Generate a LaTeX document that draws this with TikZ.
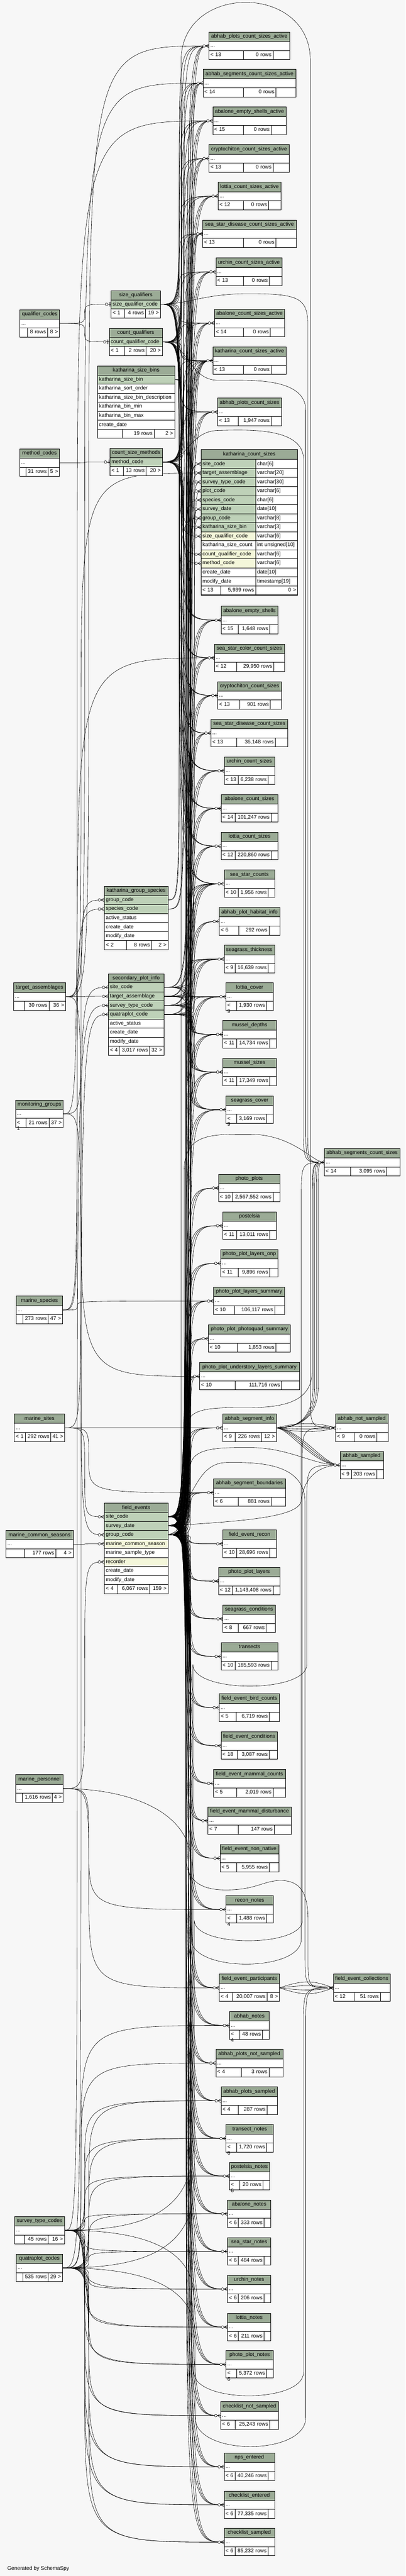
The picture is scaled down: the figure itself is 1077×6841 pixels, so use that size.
\documentclass[tikz,border=0pt]{standalone}
\usepackage{fontspec}
\setmainfont{Liberation Sans}
\usepackage{tikz}
\usetikzlibrary{calc}
\definecolor{bodybg}{HTML}{F7F7F7}
\definecolor{headbg}{HTML}{9BAB96}
\definecolor{pkbg}{HTML}{BED1B8}
\definecolor{idxbg}{HTML}{F4F7DA}
\pgfdeclarelayer{bg}
\pgfdeclarelayer{edges}
\pgfsetlayers{bg,edges,main}
\hyphenpenalty=10000
\lefthyphenmin=64
\newcommand\dbtext[1]{\expandafter\detokenize\expandafter{#1}}
\newcommand\midtables{abhab_plots_count_sizes_active, abhab_segments_count_sizes_active, abalone_empty_shells_active, cryptochiton_count_sizes_active, lottia_count_sizes_active, sea_star_disease_count_sizes_active, urchin_count_sizes_active, abalone_count_sizes_active, katharina_count_sizes_active, abhab_plots_count_sizes, abalone_empty_shells, sea_star_color_count_sizes, cryptochiton_count_sizes, sea_star_disease_count_sizes, urchin_count_sizes, abalone_count_sizes, lottia_count_sizes, sea_star_counts, abhab_plot_habitat_info, seagrass_thickness, lottia_cover, mussel_depths, mussel_sizes, seagrass_cover, photo_plots, postelsia, photo_plot_layers_onp, photo_plot_layers_summary, photo_plot_photoquad_summary, photo_plot_understory_layers_summary, abhab_segment_info, abhab_segment_boundaries, field_event_recon, photo_plot_layers, seagrass_conditions, transects, field_event_bird_counts, field_event_conditions, field_event_mammal_counts, field_event_mammal_disturbance, field_event_non_native, recon_notes, field_event_participants, abhab_notes, abhab_plots_not_sampled, abhab_plots_sampled, transect_notes, postelsia_notes, abalone_notes, sea_star_notes, urchin_notes, lottia_notes, photo_plot_notes, checklist_not_sampled, nps_entered, checklist_entered, checklist_sampled}
\newcommand\counttables{abhab_plots_count_sizes_active, abhab_segments_count_sizes_active, abalone_empty_shells_active, cryptochiton_count_sizes_active, lottia_count_sizes_active, sea_star_disease_count_sizes_active, urchin_count_sizes_active, abalone_count_sizes_active, katharina_count_sizes_active, abhab_plots_count_sizes, abalone_empty_shells, sea_star_color_count_sizes, cryptochiton_count_sizes, sea_star_disease_count_sizes, urchin_count_sizes, abalone_count_sizes, lottia_count_sizes, sea_star_counts}
\newcommand\notetables{abhab_plots_sampled, transect_notes, postelsia_notes, abalone_notes, sea_star_notes, urchin_notes, lottia_notes, photo_plot_notes, checklist_not_sampled, nps_entered, checklist_entered, checklist_sampled}
\tikzset{
  cell/.style={draw=black, line width=0.8pt, fill=white, inner xsep=4pt, inner ysep=0pt, outer sep=0pt, minimum height=24pt, text height=10pt, text depth=3pt, anchor=north west},
  headcell/.style={cell, fill=headbg, align=center},
  rel/.style={line width=0.8pt},
  erlink/.style={to path={.. controls (\tikztostart -| #1) and (\tikztostart -| #1) .. ($(\tikztostart -| #1)!.5!(\tikztotarget -| #1)$) .. controls (\tikztotarget -| #1) and (\tikztotarget -| #1) .. (\tikztotarget)}}
}
\begin{document}
\begin{tikzpicture}[x=1pt, y=-1pt, every node/.style={font=\fontsize{14pt}{16pt}\selectfont}]
\useasboundingbox (0,0) rectangle (1077,6841);
\begin{pgfonlayer}{bg}
\fill[bodybg] (0,0) rectangle (1077,6841);
\end{pgfonlayer}
\coordinate (busl1) at (205,0);
\coordinate (busl2) at (215,0);
\coordinate (busl3) at (225,0);
\coordinate (busl4) at (236,0);
\coordinate (busq1) at (476,0);
\coordinate (busq2) at (482,0);
\coordinate (busq3) at (488,0);
\coordinate (busf1) at (494,0);
\coordinate (busf2) at (500,0);
\coordinate (busf3) at (506,0);
\coordinate (bussa) at (498,0);
\coordinate (bussb) at (504,0);
\coordinate (bussc) at (510,0);
\coordinate (bussd) at (516,0);

\foreach \tn/\xa/\xb/\ty/\fl/\fm/\fr/\spa/\spb in {
 abhab_plots_count_sizes_active/555/769/85/{< 13}/{0 rows}/{}/646/725,
 abhab_segments_count_sizes_active/539/786/184/{< 14}/{0 rows}/{}/646/733,
 abalone_empty_shells_active/565/760/284/{< 15}/{0 rows}/{}/646/720,
 cryptochiton_count_sizes_active/555/768/384/{< 13}/{0 rows}/{}/646/725,
 lottia_count_sizes_active/579/746/484/{< 12}/{0 rows}/{}/646/713,
 sea_star_disease_count_sizes_active/538/787/584/{< 13}/{0 rows}/{}/646/733,
 urchin_count_sizes_active/573/749/685/{< 13}/{0 rows}/{}/646/715,
 abalone_count_sizes_active/569/756/821/{< 14}/{0 rows}/{}/646/718,
 katharina_count_sizes_active/565/760/921/{< 13}/{0 rows}/{}/646/720,
 abhab_plots_count_sizes/578/747/1057/{< 13}/{1,947 rows}/{}/633/720,
 abalone_empty_shells/587/738/1610/{< 15}/{1,648 rows}/{}/633/716,
 sea_star_color_count_sizes/569/755/1710/{< 12}/{29,950 rows}/{}/628/727,
 cryptochiton_count_sizes/578/747/1810/{< 13}/{901 rows}/{}/637/718,
 sea_star_disease_count_sizes/560/764/1910/{< 13}/{36,148 rows}/{}/628/731,
 urchin_count_sizes/595/729/2010/{< 13}/{6,238 rows}/{}/633/712,
 abalone_count_sizes/587/738/2110/{< 14}/{101,247 rows}/{}/624/720,
 lottia_count_sizes/587/738/2210/{< 12}/{220,860 rows}/{}/624/720,
 sea_star_counts/595/729/2310/{< 10}/{1,956 rows}/{}/633/712,
 abhab_plot_habitat_info/582/743/2410/{< 6}/{292 rows}/{}/634/714,
 seagrass_thickness/595/729/2510/{< 9}/{16,639 rows}/{}/624/712,
 lottia_cover/600/726/2610/{< 9}/{1,930 rows}/{}/628/708,
 mussel_depths/591/734/2710/{< 11}/{14,734 rows}/{}/628/716,
 mussel_sizes/591/734/2810/{< 11}/{17,349 rows}/{}/628/716,
 seagrass_cover/600/726/2910/{< 9}/{3,169 rows}/{}/628/708,
 photo_plots/580/743/3118/{< 10}/{2,567,552 rows}/{}/618/725,
 postelsia/591/734/3218/{< 11}/{13,011 rows}/{}/628/716,
 photo_plot_layers_onp/586/738/3318/{< 11}/{9,896 rows}/{}/633/716,
 photo_plot_layers_summary/567/756/3418/{< 10}/{106,117 rows}/{}/623/729,
 photo_plot_photoquad_summary/553/771/3518/{< 10}/{1,853 rows}/{}/630/733,
 photo_plot_understory_layers_summary/530/795/3618/{< 10}/{111,716 rows}/{}/624/748,
 abhab_segment_info/591/734/3755/{< 9}/{226 rows}/{12 >}/624/694,
 abhab_segment_boundaries/567/758/3927/{< 6}/{881 rows}/{}/633/720,
 field_event_recon/591/734/4063/{< 10}/{28,696 rows}/{}/628/716,
 photo_plot_layers/580/743/4162/{< 12}/{1,143,408 rows}/{}/618/725,
 seagrass_conditions/592/731/4262/{< 8}/{667 rows}/{}/633/707,
 transects/587/738/4362/{< 10}/{185,593 rows}/{}/624/720,
 field_event_bird_counts/582/742/4498/{< 5}/{6,719 rows}/{}/627/715,
 field_event_conditions/587/736/4599/{< 18}/{3,087 rows}/{}/630/715,
 field_event_mammal_counts/567/758/4699/{< 5}/{2,019 rows}/{}/628/725,
 field_event_mammal_disturbance/552/773/4798/{< 7}/{147 rows}/{}/633/728,
 field_event_non_native/584/740/4898/{< 5}/{5,955 rows}/{}/628/715,
 recon_notes/600/726/5034/{< 4}/{1,488 rows}/{}/628/708,
 field_event_participants/582/742/5242/{< 4}/{20,007 rows}/{8 >}/618/709,
 abhab_notes/609/715/5342/{< 4}/{48 rows}/{}/637/697,
 abhab_plots_not_sampled/573/751/5442/{< 4}/{3 rows}/{}/641/714,
 abhab_plots_sampled/587/736/5542/{< 4}/{287 rows}/{}/633/709,
 transect_notes/600/726/5642/{< 6}/{1,720 rows}/{}/628/708,
 postelsia_notes/609/716/5742/{< 6}/{20 rows}/{}/637/698,
 abalone_notes/604/719/5842/{< 6}/{333 rows}/{}/633/701,
 sea_star_notes/604/719/5942/{< 6}/{484 rows}/{}/633/701,
 urchin_notes/604/719/6042/{< 6}/{206 rows}/{}/633/701,
 lottia_notes/604/719/6143/{< 6}/{211 rows}/{}/633/701,
 photo_plot_notes/600/726/6242/{< 6}/{5,372 rows}/{}/628/708,
 checklist_not_sampled/586/739/6378/{< 6}/{25,243 rows}/{}/624/716,
 nps_entered/595/729/6514/{< 6}/{40,246 rows}/{}/624/712,
 checklist_entered/595/729/6615/{< 6}/{77,335 rows}/{}/624/712,
 checklist_sampled/595/729/6714/{< 6}/{85,232 rows}/{}/624/712,
 abhab_segments_count_sizes/861/1062/3050/{< 14}/{3,095 rows}/{}/931/1027,
 abhab_not_sampled/891/1030/3755/{< 9}/{0 rows}/{}/940/1001,
 abhab_sampled/903/1018/3854/{< 9}/{203 rows}/{}/933/1000,
 field_event_collections/885/1036/5242/{< 12}/{51 rows}/{}/941/1010,
 qualifier_codes/53/158/822/{}/{8 rows}/{8 >}/73/126,
 method_codes/52/158/1192/{}/{31 rows}/{5 >}/69/128,
 target_assemblages/36/174/2610/{}/{30 rows}/{36 >}/65/130,
 monitoring_groups/41/168/2921/{< 1}/{21 rows}/{37 >}/69/130,
 marine_species/43/166/3442/{}/{273 rows}/{47 >}/60/128,
 marine_sites/38/172/3755/{< 1}/{292 rows}/{41 >}/67/135,
 marine_common_seasons/16/194/4064/{}/{177 rows}/{4 >}/65/148,
 marine_personnel/42/168/4713/{}/{1,616 rows}/{4 >}/59/139,
 survey_type_codes/39/171/5886/{}/{45 rows}/{16 >}/65/128,
 quatraplot_codes/43/166/5986/{}/{535 rows}/{29 >}/60/128}{
 \pgfmathsetmacro\tw{\xb-\xa-8}
 \pgfmathsetmacro\lw{\spa-\xa-8}
 \pgfmathsetmacro\mw{\spb-\spa-8}
 \pgfmathsetmacro\rw{\xb-\spb-8}
 \node[headcell, minimum height=25pt, text width=\tw pt] (\tn) at (\xa,\ty) {\dbtext{\tn}};
 \node[cell, text width=\tw pt, align=left] (\tn-dots) at (\tn.south west) {...};
 \node[cell, text width=\lw pt, align=left] (\tn-fl) at (\tn-dots.south west) {\fl};
 \node[cell, text width=\mw pt, align=right] (\tn-fm) at (\tn-fl.north east) {\fm};
 \node[cell, text width=\rw pt, align=right] (\tn-fr) at (\tn-fm.north east) {\fr};
}

\foreach \tn/\xa/\xb/\ty/\cols/\lastc/\fl/\fm/\fr/\spa/\spb in {
 size_qualifiers/295/426/772/{size_qualifier_code/pkbg}/size_qualifier_code/{< 1}/{4 rows}/{19 >}/330/386,
 count_qualifiers/290/431/872/{count_qualifier_code/pkbg}/count_qualifier_code/{< 1}/{2 rows}/{20 >}/330/388,
 katharina_size_bins/259/464/972/{katharina_size_bin/pkbg,katharina_sort_order/white,katharina_size_bin_description/white,katharina_bin_min/white,katharina_bin_max/white,create_date/white}/create_date/{}/{19 rows}/{2 >}/325/409,
 count_size_methods/292/431/1191/{method_code/pkbg}/method_code/{< 1}/{13 rows}/{20 >}/328/388,
 katharina_group_species/277/446/2354/{group_code/pkbg,species_code/pkbg,active_status/white,create_date/white,modify_date/white}/modify_date/{< 2}/{8 rows}/{2 >}/336/402,
 secondary_plot_info/288/435/2586/{site_code/pkbg,target_assemblage/pkbg,survey_type_code/pkbg,quatraplot_code/pkbg,active_status/white,create_date/white,modify_date/white}/modify_date/{< 4}/{3,017 rows}/{32 >}/317/397,
 field_events/277/446/3992/{site_code/pkbg,survey_date/pkbg,group_code/pkbg,marine_common_season/idxbg,marine_sample_type/white,recorder/idxbg,create_date/white,modify_date/white}/modify_date/{< 4}/{6,067 rows}/{159 >}/313/397}{
 \pgfmathsetmacro\tw{\xb-\xa-8}
 \pgfmathsetmacro\lw{\spa-\xa-8}
 \pgfmathsetmacro\mw{\spb-\spa-8}
 \pgfmathsetmacro\rw{\xb-\spb-8}
 \node[headcell, text width=\tw pt] (\tn) at (\xa,\ty) {\dbtext{\tn}};
 \foreach \cn/\ck [count=\rowi] in \cols {
  \node[cell, fill=\ck, text width=\tw pt, align=left] (\tn-\cn) at (\xa,\ty+24*\rowi) {\dbtext{\cn}};
 }
 \node[cell, text width=\lw pt, align=left] (\tn-fl) at (\tn-\lastc.south west) {\fl};
 \node[cell, text width=\mw pt, align=right] (\tn-fm) at (\tn-fl.north east) {\fm};
 \node[cell, text width=\rw pt, align=right] (\tn-fr) at (\tn-fm.north east) {\fr};
}

\node[headcell, minimum height=26pt, text width=248pt] (katharina_count_sizes) at (534,1194) {\detokenize{katharina_count_sizes}};
\foreach \cn/\ct/\ck [count=\rowi] in {site_code/{char[6]}/pkbg, target_assemblage/{varchar[20]}/pkbg, survey_type_code/{varchar[30]}/pkbg, plot_code/{varchar[6]}/pkbg, species_code/{char[6]}/pkbg, survey_date/{date[10]}/pkbg, group_code/{varchar[8]}/pkbg, katharina_size_bin/{varchar[3]}/pkbg, size_qualifier_code/{varchar[6]}/idxbg, katharina_size_count/{int unsigned[10]}/white, count_qualifier_code/{varchar[6]}/idxbg, method_code/{varchar[6]}/idxbg, create_date/{date[10]}/white, modify_date/{timestamp[19]}/white}{
 \node[cell, fill=\ck, text width=137pt, align=left] (katharina_count_sizes-\cn) at (534,1196+24*\rowi) {\dbtext{\cn}};
 \node[cell, text width=103pt, align=left] (katharina_count_sizes-\cn-type) at (katharina_count_sizes-\cn.north east) {\ct};
}
\node[cell, text width=44pt, align=left] (katharina_count_sizes-fl) at (katharina_count_sizes-modify_date.south west) {< 13};
\node[cell, text width=85pt, align=right] (katharina_count_sizes-fm) at (katharina_count_sizes-fl.north east) {5,939 rows};
\node[cell, text width=103pt, align=right] (katharina_count_sizes-fr) at (katharina_count_sizes-fm.north east) {0 >};
\draw[line width=2pt] (katharina_count_sizes.north west) rectangle (katharina_count_sizes-fr.south east);

\begin{pgfonlayer}{edges}
\foreach \kid in \midtables {
 \foreach \row/\bus in {site_code/busf1, survey_date/busf2, group_code/busf3}
  \draw[rel] (field_events-\row.east) to[erlink=\bus] (\kid-dots.west);
}
\foreach \row/\bus in {site_code/busf1, survey_date/busf2, group_code/busf3}
 \draw[rel] (field_events-\row.east) to[erlink=\bus] (katharina_count_sizes-\row.west);
\foreach \kid in \counttables {
 \draw[rel] (size_qualifiers-size_qualifier_code.east) to[erlink=busq1] (\kid-dots.west);
 \draw[rel] (count_qualifiers-count_qualifier_code.east) to[erlink=busq2] (\kid-dots.west);
 \draw[rel] (count_size_methods-method_code.east) to[erlink=busq3] (\kid-dots.west);
}
\draw[rel] (size_qualifiers-size_qualifier_code.east) to[erlink=busq1] (katharina_count_sizes-size_qualifier_code.west);
\draw[rel] (count_qualifiers-count_qualifier_code.east) to[erlink=busq2] (katharina_count_sizes-count_qualifier_code.west);
\draw[rel] (count_size_methods-method_code.east) to[erlink=busq3] (katharina_count_sizes-method_code.west);
\draw[rel] (katharina_size_bins-katharina_size_bin.east) to[erlink=busq2] (katharina_count_sizes-katharina_size_bin.west);
\draw[rel] (katharina_size_bins-katharina_size_bin.east) to[erlink=busq2] (katharina_count_sizes_active-dots.west);
\draw[rel] (katharina_group_species-group_code.east) to[erlink=busq1] (katharina_count_sizes-group_code.west);
\draw[rel] (katharina_group_species-species_code.east) to[erlink=busq3] (katharina_count_sizes-species_code.west);
\draw[rel] (katharina_group_species-group_code.east) to[erlink=busq1] (katharina_count_sizes_active-dots.west);
\draw[rel] (katharina_group_species-species_code.east) to[erlink=busq3] (katharina_count_sizes_active-dots.west);
\foreach \kid in {katharina_count_sizes_active, sea_star_counts, seagrass_thickness, lottia_cover, mussel_depths, mussel_sizes, seagrass_cover}{
 \foreach \row/\bus in {site_code/bussa, target_assemblage/bussb, survey_type_code/bussc, quatraplot_code/bussd}
  \draw[rel] (secondary_plot_info-\row.east) to[erlink=\bus] (\kid-dots.west);
}
\foreach \row/\krow/\bus in {site_code/site_code/bussa, target_assemblage/target_assemblage/bussb, survey_type_code/survey_type_code/bussc, quatraplot_code/plot_code/bussd}
 \draw[rel] (secondary_plot_info-\row.east) to[erlink=\bus] (katharina_count_sizes-\krow.west);
\foreach \src/\kid/\bus in {
 qualifier_codes-dots.east/size_qualifiers-size_qualifier_code.west/busl3,
 qualifier_codes-dots.east/count_qualifiers-count_qualifier_code.west/busl3,
 method_codes-dots.east/count_size_methods-method_code.west/busl3,
 target_assemblages-dots.east/abhab_plots_count_sizes_active-dots.west/busl4,
 target_assemblages-dots.east/abhab_segments_count_sizes_active-dots.west/busl3,
 target_assemblages-dots.east/katharina_count_sizes-target_assemblage.west/busl2,
 target_assemblages-dots.east/secondary_plot_info-target_assemblage.west/busl3,
 target_assemblages-dots.east/photo_plot_understory_layers_summary-dots.west/busl2,
 monitoring_groups-dots.east/abalone_empty_shells_active-dots.west/busl1,
 monitoring_groups-dots.east/katharina_group_species-group_code.west/busl2,
 monitoring_groups-dots.east/field_events-group_code.west/busl2,
 marine_species-dots.east/katharina_group_species-species_code.west/busl1,
 marine_species-dots.east/sea_star_color_count_sizes-dots.west/busl1,
 marine_species-dots.east/photo_plot_layers_summary-dots.west/busl1,
 marine_sites-dots.east/secondary_plot_info-site_code.west/busl2,
 marine_sites-dots.east/field_events-site_code.west/busl3,
 marine_sites-dots.east/abhab_segment_info-dots.west/busl4,
 marine_sites-dots.east/abhab_segment_boundaries-dots.west/busl4,
 marine_common_seasons-dots.east/field_events-marine_common_season.west/busl3,
 marine_personnel-dots.east/field_events-recorder.west/busl3,
 marine_personnel-dots.east/recon_notes-dots.west/busl4,
 marine_personnel-dots.east/field_event_participants-dots.west/busl4,
 survey_type_codes-dots.east/secondary_plot_info-survey_type_code.west/busl1,
 quatraplot_codes-dots.east/secondary_plot_info-quatraplot_code.west/busl2,
 quatraplot_codes-dots.east/abhab_notes-dots.west/busl2,
 quatraplot_codes-dots.east/abhab_plots_not_sampled-dots.west/busl2}
 \draw[rel] (\src) to[erlink=\bus] (\kid);
\foreach \kid in \notetables {
 \draw[rel] (survey_type_codes-dots.east) to[erlink=busl3] (\kid-dots.west);
 \draw[rel] (quatraplot_codes-dots.east) to[erlink=busl4] (\kid-dots.west);
}
\foreach \dd in {-14,-5,5,14}{
 \draw[rel] (abhab_segment_info-dots.east) .. controls (790,{3791+(\dd)}) and (845,{3791+(\dd)}) .. (abhab_not_sampled-dots.west);
 \draw[rel] (abhab_segment_info-dots.east) .. controls ({785+(\dd)},3795) and ({845+(\dd)},3891) .. (abhab_sampled-dots.west);
 \draw[rel] (abhab_segment_info-dots.east) .. controls (790,3791) and ({838+(\dd)/2},3770) .. ({838+(\dd)/2},3680) -- ({838+(\dd)/2},3190) .. controls ({838+(\dd)/2},3087) and ({838+(\dd)/2},3087) .. (abhab_segments_count_sizes-dots.west);
 \draw[rel] (field_event_participants-dots.east) .. controls (805,{5279+1.5*(\dd)}) and (830,{5279+1.5*(\dd)}) .. (field_event_collections-dots.west);
}
\draw[rel] (field_events-group_code.east) .. controls (481,4064) and (481,4064) .. (481,3900) -- (481,160) .. controls (481,-45) and (824,-45) .. (824,160) -- (824,3700) .. controls (824,3791) and (824,3791) .. (abhab_not_sampled-dots.west);
\draw[rel] (size_qualifiers-size_qualifier_code.east) .. controls (500,808) and (540,780) .. (660,780) .. controls (790,780) and (817,790) .. (817,860) -- (817,2990) .. controls (817,3087) and (817,3087) .. (abhab_segments_count_sizes-dots.west);
\draw[rel] (count_qualifiers-count_qualifier_code.east) .. controls (500,908) and (500,1010) .. (580,1010) .. controls (660,1010) and (812,1000) .. (812,1090) -- (812,2990) .. controls (812,3087) and (812,3087) .. (abhab_segments_count_sizes-dots.west);
\draw[rel] (count_size_methods-method_code.east) .. controls (500,1227) and (500,1145) .. (580,1143) .. controls (660,1141) and (806,1135) .. (806,1220) -- (806,2990) .. controls (806,3087) and (806,3087) .. (abhab_segments_count_sizes-dots.west);
\draw[rel] (field_events-group_code.east) .. controls (489,4064) and (489,4064) .. (489,3950) -- (489,3110) .. controls (489,3010) and (560,3012) .. (660,3012) .. controls (780,3012) and (830,3087) .. (abhab_segments_count_sizes-dots.west);
\draw[rel] (field_events-survey_date.east) .. controls (497,4040) and (497,4040) .. (497,3950) -- (497,3790) .. controls (497,3738) and (560,3738) .. (660,3738) .. controls (760,3738) and (829,3720) .. (829,3640) -- (829,3190) .. controls (829,3087) and (829,3087) .. (abhab_segments_count_sizes-dots.west);
\draw[rel] (field_events-site_code.east) .. controls (505,4016) and (505,4016) .. (505,3950) -- (505,3900) .. controls (505,3846) and (570,3844) .. (660,3844) .. controls (770,3844) and (830,3891) .. (abhab_sampled-dots.west);
\draw[rel] (field_events-site_code.east) .. controls (512,4016) and (512,3886) .. (600,3884) .. controls (700,3882) and (810,3890) .. (810,3990) -- (810,5190) .. controls (810,5279) and (810,5279) .. (field_event_collections-dots.west);
\draw[rel] (field_events-survey_date.east) .. controls (640,4040) and (795,4030) .. (800,3985) .. controls (806,3930) and (840,3891) .. (abhab_sampled-dots.west);
\draw[rel] (field_events-survey_date.east) .. controls (494,4040) and (494,4040) .. (494,4150) -- (494,4930) .. controls (494,5000) and (540,5019) .. (600,5019) .. controls (680,5019) and (700,4994) .. (745,4994) .. controls (800,4994) and (818,5030) .. (818,5100) -- (818,5200) .. controls (818,5279) and (818,5279) .. (field_event_collections-dots.west);
\draw[rel] (survey_type_codes-dots.east) .. controls (330,5922) and (512,5900) .. (512,5700) -- (512,4420) .. controls (512,4497) and (815,4497) .. (815,4420) -- (815,3990) .. controls (815,3891) and (815,3891) .. (abhab_sampled-dots.west);
\draw[rel] (quatraplot_codes-dots.east) .. controls (330,6022) and (516,6000) .. (516,5800) -- (516,5100) .. controls (516,5172) and (803,5172) .. (803,5100) -- (803,3880) .. controls (803,3791) and (803,3791) .. (abhab_not_sampled-dots.west);
\draw[rel] (marine_personnel-dots.east) .. controls (320,4749) and (508,4800) .. (508,4950) -- (508,5150) .. controls (508,5238) and (800,5238) .. (800,5150) -- (800,3190) .. controls (800,3087) and (800,3087) .. (abhab_segments_count_sizes-dots.west);
\draw[rel] (survey_type_codes-dots.east) .. controls (330,5922) and (515,5950) .. (515,6100) -- (515,6300) .. controls (515,6383) and (806,6383) .. (806,6300) -- (806,5380) .. controls (806,5279) and (806,5279) .. (field_event_collections-dots.west);
\draw[rel] (quatraplot_codes-dots.east) .. controls (330,6022) and (518,6050) .. (518,6200) -- (518,6420) .. controls (518,6523) and (812,6523) .. (812,6420) -- (812,5380) .. controls (812,5279) and (812,5279) .. (field_event_collections-dots.west);
\end{pgfonlayer}

\foreach \kid in \midtables {
 \draw[rel] ([xshift=-9pt]\kid-dots.west) -- ([yshift=5pt]\kid-dots.west) ([xshift=-9pt]\kid-dots.west) -- ([yshift=-5pt]\kid-dots.west) ([xshift=-9pt]\kid-dots.west) -- (\kid-dots.west);
 \draw[rel, fill=white] ([xshift=-13pt]\kid-dots.west) circle (3.5pt);
}
\foreach \mk in {abhab_segments_count_sizes-dots.west, abhab_not_sampled-dots.west, abhab_sampled-dots.west, field_event_collections-dots.west, katharina_count_sizes-site_code.west, katharina_count_sizes-target_assemblage.west, katharina_count_sizes-survey_type_code.west, katharina_count_sizes-plot_code.west, katharina_count_sizes-species_code.west, katharina_count_sizes-survey_date.west, katharina_count_sizes-group_code.west, katharina_count_sizes-katharina_size_bin.west, katharina_count_sizes-size_qualifier_code.west, katharina_count_sizes-count_qualifier_code.west, katharina_count_sizes-method_code.west, katharina_group_species-group_code.west, katharina_group_species-species_code.west, secondary_plot_info-site_code.west, secondary_plot_info-target_assemblage.west, secondary_plot_info-survey_type_code.west, secondary_plot_info-quatraplot_code.west, field_events-site_code.west, field_events-group_code.west, field_events-marine_common_season.west, field_events-recorder.west}{
 \draw[rel] ([xshift=-9pt]\mk) -- ([yshift=5pt]\mk) ([xshift=-9pt]\mk) -- ([yshift=-5pt]\mk) ([xshift=-9pt]\mk) -- (\mk);
 \draw[rel, fill=white] ([xshift=-13pt]\mk) circle (3.5pt);
}
\foreach \mk in {size_qualifiers-size_qualifier_code.west, count_qualifiers-count_qualifier_code.west, count_size_methods-method_code.west}{
 \draw[line width=1.6pt] ([xshift=-3pt,yshift=6pt]\mk) -- ([xshift=-3pt,yshift=-6pt]\mk);
 \draw[rel] ([xshift=-8pt]\mk) -- (\mk);
 \draw[rel, fill=white] ([xshift=-12pt]\mk) circle (3.5pt);
}
\node[anchor=west] (credit) at (16,6821) {Generated by SchemaSpy};
\end{tikzpicture}
\end{document}
